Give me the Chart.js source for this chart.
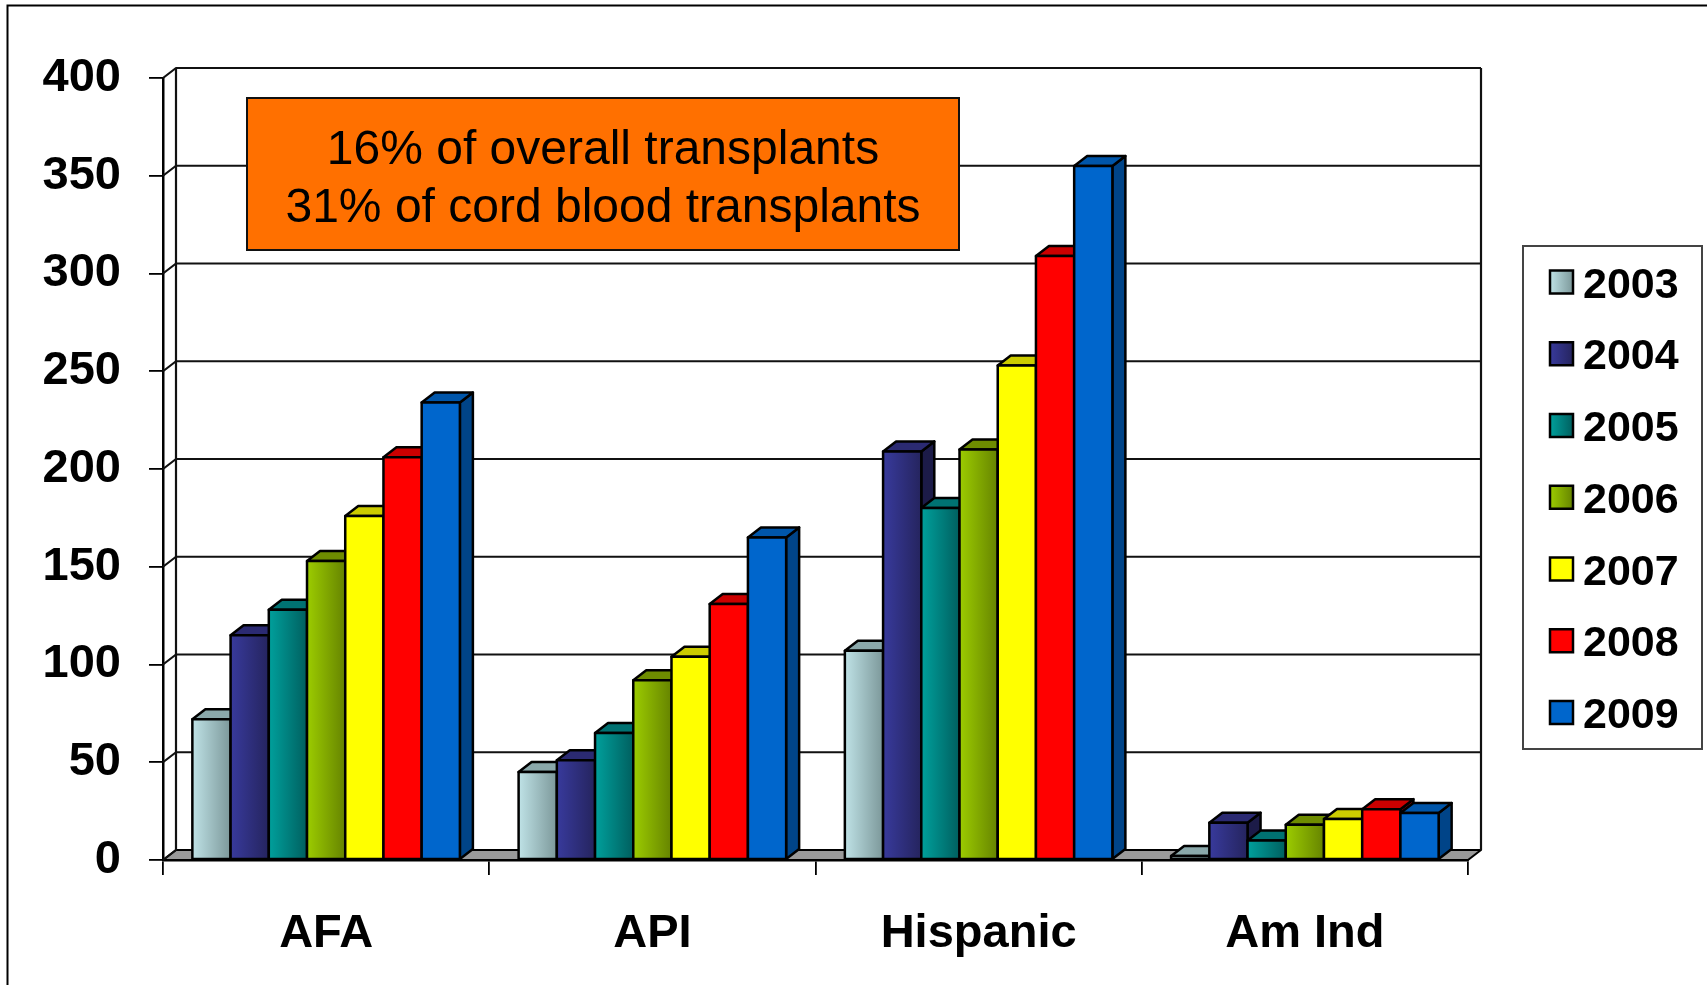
<!DOCTYPE html>
<html>
<head>
<meta charset="utf-8">
<script src="https://cdn.jsdelivr.net/npm/chart.js@4.4.0/dist/chart.umd.min.js"></script>
<style>
  html, body { margin: 0; padding: 0; background: #fff; }
  canvas { display: block; }
</style>
</head>
<body>
<canvas id="barChart" width="1707" height="985"></canvas>
<script>
const categories = ['AFA', 'API', 'Hispanic', 'Am Ind'];
const years = ['2003', '2004', '2005', '2006', '2007', '2008', '2009'];
const v2003 = [72, 45, 107, 2];
const v2004 = [115, 51, 209, 19];
const v2005 = [128, 65, 180, 10];
const v2006 = [153, 92, 210, 18];
const v2007 = [176, 104, 253, 21];
const v2008 = [206, 131, 309, 26];
const v2009 = [234, 165, 355, 24];
const yTicks = [0, 50, 100, 150, 200, 250, 300, 350, 400];
const noteLines = ['16% of overall transplants', '31% of cord blood transplants'];

// face colours: front gradient (light -> dark), top face, side face
const lightColors = ['#bfe2e6', '#383a9c', '#00a09c', '#9ccc00', '#ffff00', '#ff0000', '#0066cc'];
const darkColors  = ['#7c989a', '#25245e', '#005f5f', '#668400', '#ffff00', '#ff0000', '#0066cc'];
const topColors   = ['#8aa8aa', '#2b2a72', '#007272', '#6e8c00', '#cccc00', '#cc0000', '#0056aa'];
const sideColors  = ['#667e80', '#1c1b48', '#004c4c', '#4e6600', '#b3b300', '#b30000', '#004488'];

const FONT = "'Liberation Sans', Arial, sans-serif";
const DX = 13, DY = -10;   // depth offset of the 3D look

const seriesValues = [v2003, v2004, v2005, v2006, v2007, v2008, v2009];

function facePath(ctx, pts) {
    ctx.beginPath();
    ctx.moveTo(pts[0][0], pts[0][1]);
    for (let k = 1; k < pts.length; k++) ctx.lineTo(pts[k][0], pts[k][1]);
    ctx.closePath();
}

const wallsPlugin = {
    id: 'walls',
    beforeDatasetsDraw(chart) {
        const { ctx, chartArea: a, scales: { y } } = chart;
        ctx.save();
        ctx.lineJoin = 'round';
        // floor
        facePath(ctx, [[a.left, a.bottom], [a.right, a.bottom], [a.right + DX, a.bottom + DY], [a.left + DX, a.bottom + DY]]);
        ctx.fillStyle = '#9a9a9a';
        ctx.fill();
        ctx.lineWidth = 2;
        ctx.strokeStyle = '#000';
        ctx.stroke();
        // grid lines on side wall and back wall
        ctx.strokeStyle = '#111';
        ctx.lineWidth = 2.2;
        y.ticks.forEach(t => {
            const py = y.getPixelForValue(t.value);
            ctx.beginPath();
            ctx.moveTo(a.left, py);
            ctx.lineTo(a.left + DX, py + DY);
            if (t.value > 0) ctx.lineTo(a.right + DX, py + DY);
            ctx.stroke();
        });
        // wall edges
        ctx.beginPath();
        ctx.moveTo(a.left + DX, a.bottom + DY);
        ctx.lineTo(a.left + DX, a.top + DY);
        ctx.moveTo(a.right + DX, a.top + DY);
        ctx.lineTo(a.right + DX, a.bottom + DY);
        ctx.stroke();
        ctx.restore();
    },
    afterDatasetsDraw(chart) {
        const ctx = chart.ctx;
        ctx.save();
        ctx.lineJoin = 'round';
        ctx.lineWidth = 2.5;
        ctx.strokeStyle = '#000';
        chart.data.labels.forEach((_, i) => {
            chart.data.datasets.forEach((ds, j) => {
                const bar = chart.getDatasetMeta(j).data[i];
                const { x, y, base, width } = bar.getProps(['x', 'y', 'base', 'width'], true);
                const l = x - width / 2, r = x + width / 2;
                facePath(ctx, [[r, y], [r + DX, y + DY], [r + DX, base + DY], [r, base]]);
                ctx.fillStyle = sideColors[j];
                ctx.fill();
                ctx.stroke();
                facePath(ctx, [[l, y], [l + DX, y + DY], [r + DX, y + DY], [r, y]]);
                ctx.fillStyle = topColors[j];
                ctx.fill();
                ctx.stroke();
                const g = ctx.createLinearGradient(l, 0, r, 0);
                g.addColorStop(0, lightColors[j]);
                g.addColorStop(1, darkColors[j]);
                ctx.fillStyle = g;
                ctx.fillRect(l, y, width, base - y);
                ctx.strokeRect(l, y, width, base - y);
            });
        });
        ctx.restore();
    },
    afterDraw(chart) {
        const ctx = chart.ctx;
        ctx.save();
        // note box
        ctx.fillStyle = '#ff7000';
        ctx.fillRect(247, 98, 712, 152);
        ctx.lineWidth = 2;
        ctx.strokeStyle = '#111';
        ctx.strokeRect(247, 98, 712, 152);
        ctx.fillStyle = '#000';
        ctx.font = '48px ' + FONT;
        ctx.textAlign = 'center';
        ctx.textBaseline = 'alphabetic';
        ctx.fillText(noteLines[0], 603, 164);
        ctx.fillText(noteLines[1], 603, 222);

        // legend
        ctx.fillStyle = '#fff';
        ctx.fillRect(1523, 246, 179, 503);
        ctx.lineWidth = 2;
        ctx.strokeStyle = '#444';
        ctx.strokeRect(1523, 246, 179, 503);
        ctx.font = 'bold 43px ' + FONT;
        ctx.textAlign = 'left';
        chart.data.datasets.forEach((ds, j) => {
            const cy = 282 + j * 71.75;
            const g = ctx.createLinearGradient(1550, 0, 1573, 0);
            g.addColorStop(0, lightColors[j]);
            g.addColorStop(1, darkColors[j]);
            ctx.fillStyle = g;
            ctx.fillRect(1550, cy - 11.5, 23, 23);
            ctx.strokeStyle = '#000';
            ctx.lineWidth = 2.5;
            ctx.strokeRect(1550, cy - 11.5, 23, 23);
            ctx.fillStyle = '#000';
            ctx.fillText(ds.label, 1583, cy + 15.5);
        });

        // slide frame
        ctx.strokeStyle = '#000';
        ctx.lineWidth = 2;
        ctx.beginPath();
        ctx.moveTo(1707, 5.5);
        ctx.lineTo(7.5, 5.5);
        ctx.lineTo(7.5, 985);
        ctx.stroke();
        ctx.restore();
    }
};

function createBarChart() {
    const ctx = document.getElementById('barChart').getContext('2d');
    const datasets = years.map((year, j) => ({
        label: year,
        data: seriesValues[j],
        backgroundColor: lightColors[j],
        borderWidth: 0,
        categoryPercentage: 0.82,
        barPercentage: 1.0
    }));

    new Chart(ctx, {
        type: 'bar',
        data: {
            labels: categories,
            datasets: datasets
        },
        options: {
            responsive: false,
            animation: false,
            layout: {
                padding: { left: 0, right: 239, top: 78, bottom: 0 }
            },
            scales: {
                y: {
                    min: yTicks[0],
                    max: yTicks[yTicks.length - 1],
                    afterFit: scale => { scale.width = 163; },
                    afterBuildTicks: scale => { scale.ticks = yTicks.map(v => ({ value: v })); },
                    ticks: {
                        color: '#000',
                        padding: 28,
                        font: { size: 47, family: FONT, weight: 'bold' }
                    },
                    grid: {
                        drawOnChartArea: false,
                        drawTicks: true,
                        tickLength: 14,
                        color: '#000',
                        lineWidth: 1.8
                    },
                    border: { display: true, color: '#000', width: 2.5 }
                },
                x: {
                    afterFit: scale => { scale.height = 125; },
                    ticks: {
                        color: '#000',
                        padding: 31,
                        font: { size: 47, family: FONT, weight: 'bold' }
                    },
                    grid: {
                        offset: true,
                        drawOnChartArea: false,
                        drawTicks: true,
                        tickLength: 15,
                        color: '#000',
                        lineWidth: 1.8
                    },
                    border: { display: true, color: '#000', width: 2.5 }
                }
            },
            plugins: {
                legend: { display: false },
                tooltip: { enabled: false }
            }
        },
        plugins: [wallsPlugin]
    });
}

createBarChart();
</script>
</body>
</html>
